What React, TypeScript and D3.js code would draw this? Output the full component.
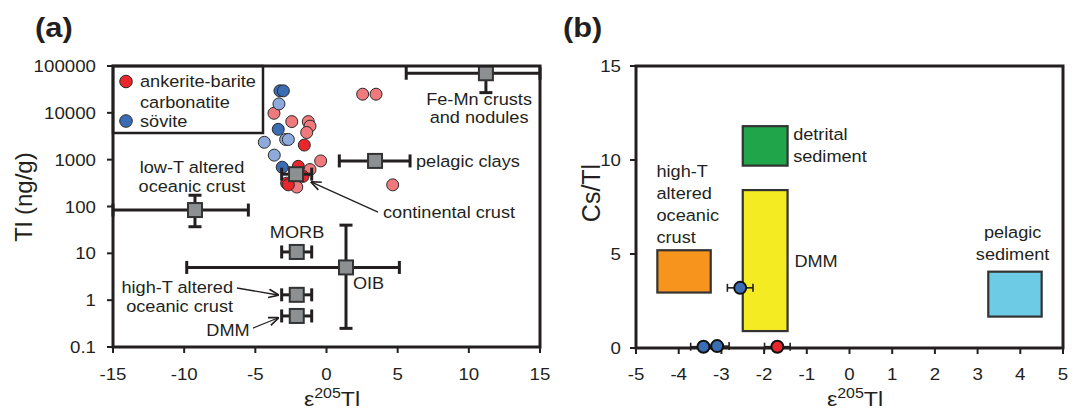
import React from "react";
import * as d3 from "d3";

const FONT = "'Liberation Sans', Arial, Helvetica, sans-serif";
const INK = "#231f20";

// ---------------- Panel (a) data ----------------
const aXTickValues = [-15, -10, -5, 0, 5, 10, 15];
const aYTickValues = [0.1, 1, 10, 100, 1000, 10000, 100000];
const aYTickLabels = ["0.1", "1", "10", "100", "1000", "10000", "100000"];

// ankerite-barite carbonatite (saturated / pale symbols): [eps205Tl, Tl ng/g]
const ankeritePale: [number, number][] = [
  [-3.69, 9800], [-2.44, 6500], [-1.28, 6500], [-1.16, 5200], [-1.39, 3800],
  [-0.41, 940], [-1.16, 615], [-2.09, 260], [2.54, 25000], [3.48, 25000], [4.65, 290],
];
const ankeriteBold: [number, number][] = [
  [-1.56, 2050], [-1.98, 720], [-2.8, 315], [-2.68, 290], [-1.65, 440],
];
// sövite
const sovitePale: [number, number][] = [
  [-3.34, 15500], [-2.87, 2700], [-2.68, 2700], [-4.37, 2350], [-3.67, 1250],
];
const soviteBold: [number, number][] = [
  [-3.27, 29500], [-3.03, 29500], [-3.39, 4450], [-3.11, 690],
];

// reservoirs (grey squares)
const resNames = ["Fe-Mn", "pelagic clays", "continental crust", "low-T AOC", "MORB", "OIB", "high-T AOC", "DMM"];
const resEps = [11.2, 3.41, -2.14, -9.24, -2.09, 1.37, -2.09, -2.09];
const resTl = [70000, 940, 490, 84, 10.7, 5, 1.3, 0.46];
const resEpsLo = [5.6, 0.9, -3.15, -15, -3.15, -9.82, -3.15, -3.15];
const resEpsHi = [15, 5.87, -1.04, -5.49, -1.04, 5.12, -1.04, -1.04];
const resTlLo: (number | null)[] = [27000, null, null, 37, null, 0.25, null, null];
const resTlHi: (number | null)[] = [null, null, null, 174, null, 40, null, null];

// annotations panel (a): text lines, anchor in data units (eps, Tl at first baseline)
const aLabelLines = [
  ["Fe-Mn crusts", "and nodules"],
  ["pelagic clays"],
  ["continental crust"],
  ["low-T altered", "oceanic crust"],
  ["MORB"],
  ["OIB"],
  ["high-T altered", "oceanic crust"],
  ["DMM"],
];
const aLabelEps = [10.72, 6.29, 3.97, -9.45, -2.07, 1.86, -6.57, -6.92];
const aLabelTl = [14700, 697, 56.8, 519, 21.2, 1.73, 1.42, 0.171];
const aLabelAnchor = ["middle", "start", "start", "middle", "middle", "start", "end", "middle"];

// arrows panel (a): [eps0, Tl0, eps1, Tl1]
const aArrows: [number, number, number, number][] = [
  [3.62, 76, -1.05, 330],
  [-6.29, 1.82, -3.41, 1.29],
  [-5.16, 0.254, -3.41, 0.416],
];

// ---------------- Panel (b) data ----------------
const bXTickValues = [-5, -4, -3, -2, -1, 0, 1, 2, 3, 4, 5];
const bYTickValues = [0, 5, 10, 15];

const boxNames = ["high-T AOC", "DMM", "detrital sediment", "pelagic sediment"];
const boxColors = ["#f7941e", "#f4eb22", "#21a54b", "#6dcbe5"];
const boxEps0 = [-4.5, -2.5, -2.5, 3.25];
const boxEps1 = [-3.25, -1.45, -1.45, 4.5];
const boxCs0 = [2.95, 0.9, 9.7, 1.67];
const boxCs1 = [5.2, 8.4, 11.8, 4.06];

const bPointEps = [-2.56, -3.42, -3.1, -1.69];
const bPointCs = [3.2, 0.07, 0.1, 0.07];
const bPointErr = [0.3, 0.3, 0.28, 0.3];
const bPointType = ["sovite", "sovite", "sovite", "ankerite"];

const bLabelLines = [
  ["detrital", "sediment"],
  ["high-T", "altered", "oceanic", "crust"],
  ["DMM"],
  ["pelagic", "sediment"],
];
const bLabelEps = [-1.32, -4.52, -1.29, 3.82];
const bLabelCs = [11.06, 9.11, 4.32, 5.835];
const bLabelAnchor = ["start", "start", "start", "middle"];

const RED = "#e8262c";
const PINK = "#ef7a7e";
const BLUE = "#3b6db4";
const LBLUE = "#8eaadb";

function T({ x, y, children, anchor = "start", size = 16.5, weight = "normal", sx = 1.1 }: any) {
  return (
    <text
      transform={`translate(${x},${y}) scale(${sx},1)`}
      textAnchor={anchor}
      fontSize={size}
      fontWeight={weight}
      fontFamily={FONT}
      fill={INK}
    >
      {children}
    </text>
  );
}

export default function App() {
  const ax = d3.scaleLinear().domain([-15, 15]).range([113, 540]);
  const ay = d3.scaleLog().domain([0.1, 100000]).range([347, 66]);
  const bx = d3.scaleLinear().domain([-5, 5]).range([636, 1063]);
  const by = d3.scaleLinear().domain([0, 15]).range([348, 66]);

  const cap = 6.5;
  const sq = 7;

  const dot = (p: [number, number], fill: string, key: string) => (
    <circle key={key} cx={ax(p[0])} cy={ay(p[1])} r={6} fill={fill} stroke="#2a2a2a" strokeWidth={1} />
  );

  return (
    <svg
      width={1079}
      height={413}
      style={{ position: "fixed", left: 0, top: 0, background: "#fff" }}
    >
      <defs>
        <marker id="arr" viewBox="0 0 10 10" refX="9" refY="5" markerWidth="8" markerHeight="8" orient="auto">
          <path d="M0,1 L10,5 L0,9" fill="none" stroke={INK} strokeWidth={1.6} />
        </marker>
      </defs>
      <rect width={1079} height={413} fill="#fff" />

      {/* ================= Panel (a) ================= */}
      <T x={35} y={37} size={28} weight="bold">(a)</T>

      {/* data points */}
      <g>
        {ankeritePale.map((p, i) => dot(p, PINK, "ap" + i))}
        {sovitePale.map((p, i) => dot(p, LBLUE, "sp" + i))}
        {soviteBold.map((p, i) => dot(p, BLUE, "sb" + i))}
        {ankeriteBold.map((p, i) => dot(p, RED, "ab" + i))}
      </g>

      {/* reservoirs with error bars */}
      <g stroke={INK} strokeWidth={3} fill="none">
        {resNames.map((n, i) => {
          const cx = ax(resEps[i]);
          const cy = ay(resTl[i]);
          const x0 = ax(resEpsLo[i]);
          const x1 = ax(resEpsHi[i]);
          const lo = resTlLo[i];
          const hi = resTlHi[i];
          return (
            <g key={n}>
              <line x1={x0} x2={x1} y1={cy} y2={cy} />
              <line x1={x0} x2={x0} y1={cy - cap} y2={cy + cap} />
              <line x1={x1} x2={x1} y1={cy - cap} y2={cy + cap} />
              {lo !== null && (
                <>
                  <line x1={cx} x2={cx} y1={cy} y2={ay(lo)} />
                  <line x1={cx - cap} x2={cx + cap} y1={ay(lo)} y2={ay(lo)} />
                </>
              )}
              {hi !== null && (
                <>
                  <line x1={cx} x2={cx} y1={cy} y2={ay(hi)} />
                  <line x1={cx - cap} x2={cx + cap} y1={ay(hi)} y2={ay(hi)} />
                </>
              )}
            </g>
          );
        })}
      </g>
      <g>
        {resNames.map((n, i) => (
          <rect
            key={n}
            x={ax(resEps[i]) - sq}
            y={ay(resTl[i]) - sq}
            width={sq * 2}
            height={sq * 2}
            fill="#8c9093"
            stroke="#333"
            strokeWidth={2}
          />
        ))}
      </g>

      {/* annotations (a) */}
      {aLabelLines.map((lines, i) =>
        lines.map((t, j) => (
          <T key={"al" + i + j} x={ax(aLabelEps[i])} y={ay(aLabelTl[i]) + j * 18.5} anchor={aLabelAnchor[i]}>
            {t}
          </T>
        ))
      )}
      {aArrows.map((a, i) => (
        <line
          key={"arr" + i}
          x1={ax(a[0])}
          y1={ay(a[1])}
          x2={ax(a[2])}
          y2={ay(a[3])}
          stroke={INK}
          strokeWidth={1.3}
          markerEnd="url(#arr)"
        />
      ))}

      {/* legend */}
      <rect x={113} y={66} width={150} height={67} fill="#fff" stroke={INK} strokeWidth={2.5} />
      <circle cx={126} cy={81.5} r={6.3} fill={RED} stroke="#2a2a2a" strokeWidth={1} />
      <T x={140} y={87}>ankerite-barite</T>
      <T x={140} y={108}>carbonatite</T>
      <circle cx={126} cy={121} r={6.3} fill={BLUE} stroke="#2a2a2a" strokeWidth={1} />
      <T x={140} y={127}>sövite</T>

      {/* frame & axes (a) */}
      <rect x={113} y={66} width={427} height={281} fill="none" stroke={INK} strokeWidth={3} />
      {aXTickValues.map((v) => (
        <g key={"ax" + v}>
          <line x1={ax(v)} x2={ax(v)} y1={347} y2={353} stroke={INK} strokeWidth={2} />
          <T x={ax(v)} y={380} anchor="middle" size={17}>{String(v)}</T>
        </g>
      ))}
      {aYTickValues.map((v, i) => (
        <g key={"ay" + v}>
          <line x1={107} x2={113} y1={ay(v)} y2={ay(v)} stroke={INK} strokeWidth={2} />
          <T x={96} y={ay(v) + 6} anchor="end" size={17}>{aYTickLabels[i]}</T>
        </g>
      ))}
      <text transform="translate(32,197) rotate(-90)" textAnchor="middle" fontSize={24} fontFamily={FONT} fill={INK}>
        Tl (ng/g)
      </text>
      <text transform="translate(332,406) scale(1.1,1)" textAnchor="middle" fontSize={21} fontFamily={FONT} fill={INK}>
        ε<tspan fontSize={14.5} dy={-8}>205</tspan>
        <tspan dy={8}>Tl</tspan>
      </text>

      {/* ================= Panel (b) ================= */}
      <T x={563} y={37} size={28} weight="bold">(b)</T>

      {boxNames.map((n, i) => (
        <rect
          key={n}
          x={bx(boxEps0[i])}
          y={by(boxCs1[i])}
          width={bx(boxEps1[i]) - bx(boxEps0[i])}
          height={by(boxCs0[i]) - by(boxCs1[i])}
          fill={boxColors[i]}
          stroke="#333"
          strokeWidth={2.2}
        />
      ))}

      {bLabelLines.map((lines, i) =>
        lines.map((t, j) => (
          <T key={"bl" + i + j} x={bx(bLabelEps[i])} y={by(bLabelCs[i]) + j * 22} anchor={bLabelAnchor[i]}>
            {t}
          </T>
        ))
      )}

      {/* frame & axes (b) */}
      <rect x={636} y={66} width={427} height={282} fill="none" stroke={INK} strokeWidth={3} />
      {bXTickValues.map((v) => (
        <g key={"bx" + v}>
          <line x1={bx(v)} x2={bx(v)} y1={348} y2={354} stroke={INK} strokeWidth={2} />
          <T x={bx(v)} y={380} anchor="middle" size={17}>{String(v)}</T>
        </g>
      ))}
      {bYTickValues.map((v) => (
        <g key={"by" + v}>
          <line x1={630} x2={636} y1={by(v)} y2={by(v)} stroke={INK} strokeWidth={2} />
          <T x={621} y={by(v) + 6} anchor="end" size={17}>{String(v)}</T>
        </g>
      ))}
      <text transform="translate(600,193) rotate(-90)" textAnchor="middle" fontSize={25} fontFamily={FONT} fill={INK}>
        Cs/Tl
      </text>
      <text transform="translate(855,406) scale(1.1,1)" textAnchor="middle" fontSize={21} fontFamily={FONT} fill={INK}>
        ε<tspan fontSize={14.5} dy={-8}>205</tspan>
        <tspan dy={8}>Tl</tspan>
      </text>

      {/* points (b) with error bars */}
      <g stroke={INK} strokeWidth={1.6}>
        {bPointEps.map((e, i) => {
          const y = by(bPointCs[i]);
          const x0 = bx(e - bPointErr[i]);
          const x1 = bx(e + bPointErr[i]);
          return (
            <g key={"be" + i}>
              <line x1={x0} x2={x1} y1={y} y2={y} />
              <line x1={x0} x2={x0} y1={y - 4} y2={y + 4} />
              <line x1={x1} x2={x1} y1={y - 4} y2={y + 4} />
            </g>
          );
        })}
      </g>
      {bPointEps.map((e, i) => (
        <circle
          key={"bp" + i}
          cx={bx(e)}
          cy={by(bPointCs[i])}
          r={6}
          fill={bPointType[i] === "sovite" ? BLUE : RED}
          stroke="#111"
          strokeWidth={2}
        />
      ))}
    </svg>
  );
}
